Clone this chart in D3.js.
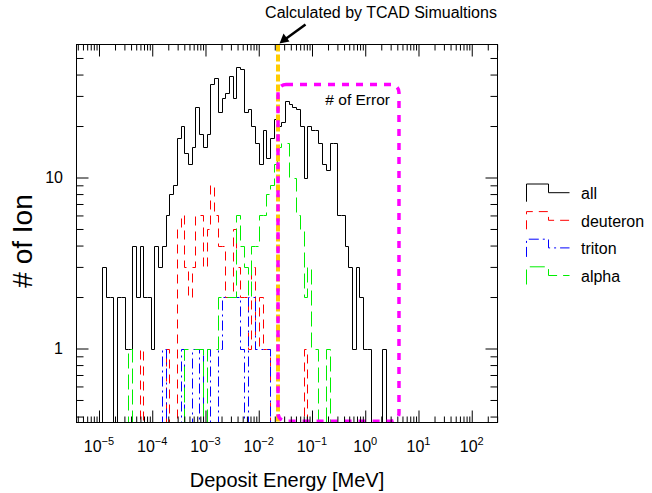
<!DOCTYPE html>
<html><head><meta charset="utf-8">
<script src="https://cdn.jsdelivr.net/npm/d3@7"></script>
<style>
body{margin:0;background:#fff}
text{font-family:"Liberation Sans",Arial,Helvetica,sans-serif;fill:#000}
</style>
</head><body>
<svg id="c" width="652" height="493"></svg>
<script>
// ---------------- data ----------------
const binLow = 1e-5, binHigh = 1e2, nBins = 100;   // log-spaced histogram binning [MeV]
// counts per bin (bin index 0 starts at 1e-5 MeV)
const allCounts = [
 0,3,2,2,0,2,2,1,1,4,     // 0-9
 2,4,2,2,1,4,3,4,6,8,     // 10-19
 9,17,20,14,12,15,26,18,15,18, // 20-29
 35,38,24,29,31,39,29,44,43,24, // 30-39
 25,20,16,12,19,13,17,22,20,21, // 40-49
 28,27,26,25,20,10,20,19,19,16, // 50-59
 12,11,16,16,6,6,4,3,1,3,       // 60-69
 2,1,1,0,0,0,1                  // 70-76
];
const deuteronCounts = [
 0,0,0,0,0,0,0,0,0,0,
 0,1,0,0,0,0,0,0,1,0,
 0,5,6,3,2,3,6,6,3,5,
 9,6,4,4,2,2,5,3,2,2,
 1,3,1,2,1,1,0,0,0,0,
 0,0,0,0,0,1
];
const tritonCounts = [
 0,0,0,0,0,0,0,0,0,0,
 0,0,0,0,0,0,0,1,0,0,
 0,0,1,0,0,1,1,0,1,1,
 0,0,1,2,2,2,2,2,1,0,
 2,2,1,1,1,1
];
const alphaCounts = [
 0,0,0,0,0,0,0,0,1,0,
 0,0,0,0,0,0,0,0,0,0,
 0,0,0,1,1,1,1,1,0,1,
 1,1,2,2,2,2,2,6,4,3,
 2,4,4,6,6,8,9,12,15,16,
 16,10,10,6,5,2,3,1,1,0,
 0,1
];
const seriesNames = ["all","deuteron","triton","alpha"];
const seriesColors = ["#000000","#ff0000","#0000ff","#00ee00"];
const seriesDash = [null,"9,6","10,4,2,4","15,6"];
const seriesCounts = [allCounts, deuteronCounts, tritonCounts, alphaCounts];

const xMajorTicks = [1e-5,1e-4,1e-3,1e-2,1e-1,1e0,1e1,1e2];
const xTickExp = ["−5","−4","−3","−2","−1","0","1","2"];
const yMajorTicks = [1,10];
const yTickLabels = ["1","10"];

const tcadEnergy = 0.023;                 // MeV, "Calculated by TCAD Simualtions"
const errorBox = {eMin:0.023, eMax:4.3, nMin:0.376, nMax:35};

// ---------------- layout ----------------
const svg = d3.select("#c");
const xLogMin = -5.4225, xLogMax = 2.4836;
const x = d3.scaleLog().domain([Math.pow(10,xLogMin), Math.pow(10,xLogMax)]).range([76.5,497.5]);
const y = d3.scaleLog().domain([0.3692, 59.95]).range([422.5,44.5]);
const [x0,x1] = x.range(), [y0,y1] = y.range();

const binEdges = d3.range(nBins+1).map(i => binLow*Math.pow(binHigh/binLow, i/nBins));

// minor ticks
const xMinor = [];
for (let k=-6;k<=2;k++) for (let m=2;m<=9;m++){ const v=m*Math.pow(10,k); if(v>x.domain()[0] && v<x.domain()[1]) xMinor.push(v); }
const yMinor = [];
for (let k=-1;k<=1;k++) for (let m=2;m<=9;m++){ const v=m*Math.pow(10,k); if(v>y.domain()[0] && v<y.domain()[1]) yMinor.push(v); }

svg.append("defs").append("clipPath").attr("id","plotclip")
  .append("rect").attr("x",x0).attr("y",y1).attr("width",x1-x0).attr("height",y0-y1);

// histograms
function px(v){ return Math.floor(x(v))+0.5; }
function histPath(counts){
  const yb = y0;
  let d = `M${px(binEdges[0])},${yb}`;
  counts.forEach((c,i)=>{
    const yy = c>0 ? Math.round(y(c))+0.5 : yb;
    d += `L${px(binEdges[i])},${yy}L${px(binEdges[i+1])},${yy}`;
  });
  d += `L${px(binEdges[counts.length])},${yb}`;
  return d;
}
const gh = svg.append("g").attr("clip-path","url(#plotclip)");
seriesCounts.forEach((c,i)=>{
  gh.append("path").attr("d",histPath(c)).attr("fill","none")
    .attr("stroke",seriesColors[i]).attr("stroke-width",1)
    .attr("stroke-dasharray",seriesDash[i]);
});

// TCAD line
gh.append("line").attr("x1",x(tcadEnergy)).attr("x2",x(tcadEnergy)).attr("y1",y1).attr("y2",y0)
  .attr("stroke","#ffcc00").attr("stroke-width",4).attr("stroke-dasharray","7,3");

// error box
const bx0 = x(errorBox.eMin), bx1 = x(errorBox.eMax), by0 = y(errorBox.nMax), by1 = y(errorBox.nMin);
svg.append("rect").attr("x",bx0).attr("y",by0).attr("width",bx1-bx0).attr("height",by1-by0)
  .attr("rx",8).attr("ry",8).attr("fill","none").attr("stroke","#ff00ff")
  .attr("stroke-width",3.5).attr("stroke-dasharray","7,7");
svg.append("text").attr("x",bx1-9).attr("y",by0+21).attr("text-anchor","end")
  .style("font-size","15.5px").text("# of Error");

// axes (ticks inward on all four sides)
function styleAxis(g){ g.select(".domain").remove(); g.selectAll("line").attr("stroke","#000"); }
svg.append("g").attr("transform",`translate(0,${y0})`).call(d3.axisBottom(x).tickValues(xMajorTicks).tickSize(-12).tickFormat("")).call(styleAxis);
svg.append("g").attr("transform",`translate(0,${y0})`).call(d3.axisBottom(x).tickValues(xMinor).tickSize(-6).tickFormat("")).call(styleAxis);
svg.append("g").attr("transform",`translate(0,${y1})`).call(d3.axisTop(x).tickValues(xMajorTicks).tickSize(-12).tickFormat("")).call(styleAxis);
svg.append("g").attr("transform",`translate(0,${y1})`).call(d3.axisTop(x).tickValues(xMinor).tickSize(-6).tickFormat("")).call(styleAxis);
svg.append("g").attr("transform",`translate(${x0},0)`).call(d3.axisLeft(y).tickValues(yMajorTicks).tickSize(-12).tickFormat("")).call(styleAxis);
svg.append("g").attr("transform",`translate(${x0},0)`).call(d3.axisLeft(y).tickValues(yMinor).tickSize(-7).tickFormat("")).call(styleAxis);
svg.append("g").attr("transform",`translate(${x1},0)`).call(d3.axisRight(y).tickValues(yMajorTicks).tickSize(-12).tickFormat("")).call(styleAxis);
svg.append("g").attr("transform",`translate(${x1},0)`).call(d3.axisRight(y).tickValues(yMinor).tickSize(-7).tickFormat("")).call(styleAxis);

svg.append("rect").attr("x",x0).attr("y",y1).attr("width",x1-x0).attr("height",y0-y1)
  .attr("fill","none").attr("stroke","#000").attr("stroke-width",1);

// x tick labels
xMajorTicks.forEach((v,i)=>{
  const t = svg.append("text").attr("x",x(v)).attr("y",451.7).attr("text-anchor","middle").style("font-size","16px");
  t.append("tspan").text("10");
  t.append("tspan").attr("dy",-7).style("font-size","11px").text(xTickExp[i]);
});
// y tick labels
yMajorTicks.forEach((v,i)=>{
  svg.append("text").attr("x",63).attr("y",y(v)).attr("dy","0.36em").attr("text-anchor","end")
    .style("font-size","16px").text(yTickLabels[i]);
});

// axis titles
svg.append("text").attr("x",(x0+x1)/2).attr("y",486.5).attr("text-anchor","middle").style("font-size","20px").text("Deposit Energy [MeV]");
svg.append("text").attr("transform","translate(32,241) rotate(-90)").attr("text-anchor","middle").style("font-size","28px").text("# of Ion");

// annotation
svg.append("text").attr("x",381).attr("y",18.3).attr("text-anchor","middle").style("font-size","16px").text("Calculated by TCAD Simualtions");
const tipX = x(tcadEnergy)+1.5, tipY = y1-1;
svg.append("line").attr("x1",tipX+26).attr("y1",tipY-19).attr("x2",tipX+6).attr("y2",tipY-4.5)
  .attr("stroke","#000").attr("stroke-width",2.5);
svg.append("path").attr("d",`M${tipX},${tipY}L${tipX+4},${tipY-10}L${tipX+10},${tipY-2}Z`).attr("fill","#000");

// legend
seriesNames.forEach((n,i)=>{
  const ly = 184 + i*27.6;
  svg.append("path").attr("d",`M526.5,${ly+17.7}V${ly}H548.5V${ly+8.7}H569.5`)
    .attr("fill","none").attr("stroke",seriesColors[i]).attr("stroke-width",1)
    .attr("stroke-dasharray",seriesDash[i]);
  svg.append("text").attr("x",581).attr("y",ly+15).style("font-size","16px").text(n);
});
</script>
</body></html>
